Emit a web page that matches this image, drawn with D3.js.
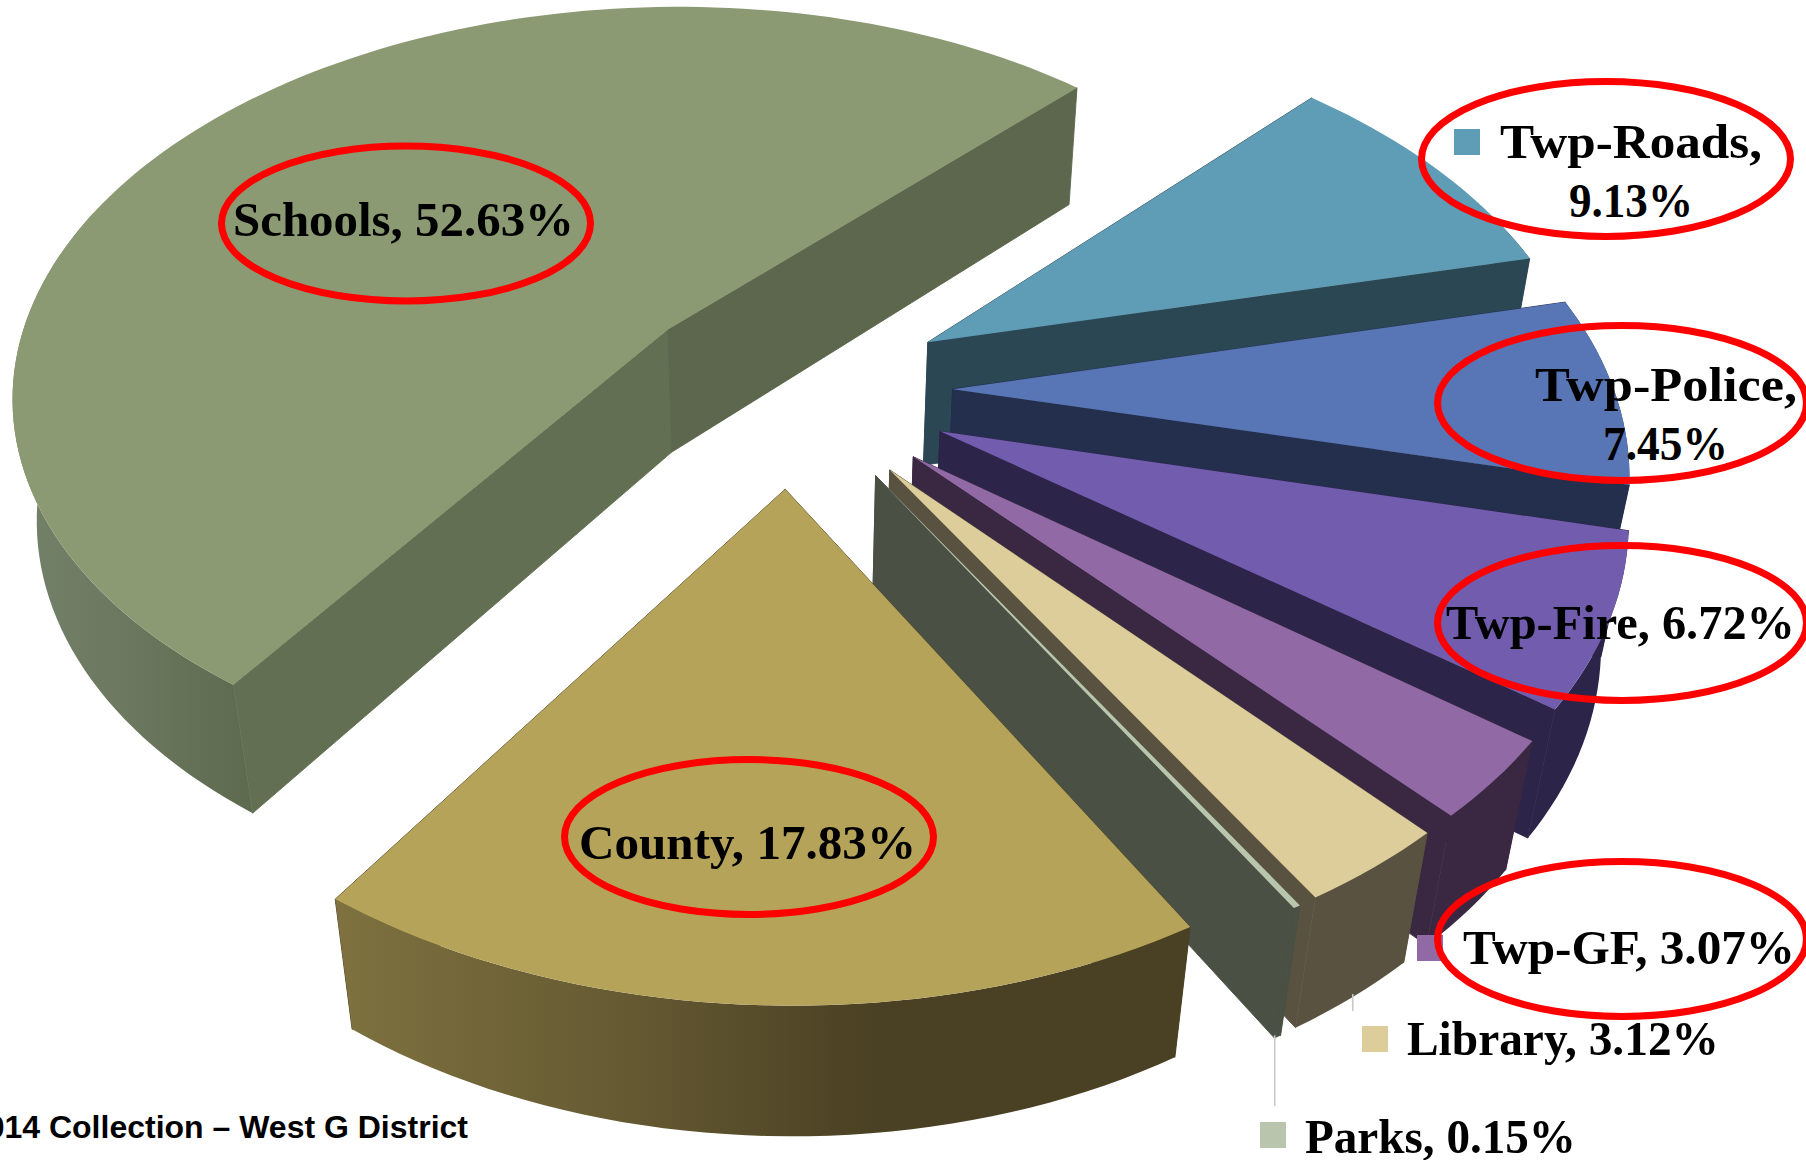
<!DOCTYPE html>
<html><head><meta charset="utf-8">
<style>html,body{margin:0;padding:0;background:#fff;overflow:hidden}svg{display:block}</style>
<script src="https://cdn.jsdelivr.net/npm/d3@7"></script>
</head><body><svg id="c" width="1806" height="1160"></svg>
<script>
// ---- data ----
const categories = ["Twp-Roads","Twp-Police","Twp-Fire","Twp-GF","Library","Parks","County","Schools"];
const values     = [9.13,7.45,6.72,3.07,3.12,0.15,17.83,52.63];
const valueText  = ["9.13%","7.45%","6.72%","3.07%","3.12%","0.15%","17.83%","52.63%"];
// ---- styles ----
const topColors  = ["#5f9db6","#5876b6","#715cae","#9069a5","#dccd9b","#b9c5ac","#b6a35a","#8c9a73"];
const rimColors  = ["#2c4754","#232f4c","#2d2449","#3a2842","#595240","#4a5043","#4a4023","#5e6a4e"];
const edgeA      = ["#2c4754","#232f4c","#2d2449","#3a2842","#595240","#4a5043","#4a4023","#636f52"];
const edgeB      = ["#2c4754","#232f4c","#2d2449","#3a2842","#595240","#4a5043","#4a4023","#5c674d"];
const rimShade   = {6:[[332,"#7f7240"],[620,"#655a32"],[880,"#4a4023"]], 7:[[20,"#74816a"],[120,"#6c7960"],[250,"#5e6a4e"]]};
// ---- camera: horizon, nadir, explosion ----
const deg = Math.PI/180;
const cam = {cx:750, f:645, horizon:-2000, D:2331, p:0.1609, nx:786, ny:4363, q:0.0314};
const hub = {x:0.062, y:0.1508}, explode = 0.2445, startDeg = 43.9;

function project(X,Y,down){
  const w = 1-cam.p*Y;
  let x = cam.cx+cam.f*X/w, y = cam.horizon+cam.D/w;
  if(down){ const r = cam.q/(w+cam.q); x += (cam.nx-x)*r; y += (cam.ny-y)*r; }
  return [x,y];
}
const svg = d3.select("#c");
const defs = svg.append("defs");
const arcs = d3.pie().sort(null).value(d=>d).startAngle(startDeg*deg).endAngle(startDeg*deg+2*Math.PI)(values);
const line = d3.line();
const poly = pts => line(pts)+"Z";

const geo = arcs.map(a=>{
  const mid=(a.startAngle+a.endAngle)/2;
  const ax=hub.x+explode*Math.sin(mid), ay=hub.y-explode*Math.cos(mid);
  const n=Math.max(1,Math.ceil((a.endAngle-a.startAngle)/(1.5*deg)));
  const angs=d3.range(n+1).map(i=>a.startAngle+(a.endAngle-a.startAngle)*i/n);
  const rim=angs.map(t=>[ax+Math.sin(t),ay-Math.cos(t)]);
  return {ax,ay,mid,angs,rim};
});
Object.keys(rimShade).forEach(i=>{
  const st=rimShade[i], g=defs.append("linearGradient").attr("id","rim"+i).attr("gradientUnits","userSpaceOnUse")
    .attr("x1",st[0][0]).attr("x2",st[st.length-1][0]).attr("y1",0).attr("y2",0);
  const off=d3.scaleLinear().domain([st[0][0],st[st.length-1][0]]).range([0,1]);
  st.forEach(s=>g.append("stop").attr("offset",off(s[0])).attr("stop-color",s[1]));
});

// back to front: Schools behind, then round the ring to the County
const order=[7,0,1,2,3,4,5,6];
order.forEach(i=>{
  const g=geo[i], s=svg.append("g").attr("class","slice");
  // rim wall, only where the rim faces the viewer
  const front=g.rim.filter((p,k)=>Math.cos(g.angs[k])<0.35);
  const rimFill=rimShade[i]?`url(#rim${i})`:rimColors[i];
  const upper=front.map(p=>project(p[0],p[1])), lower=front.map(p=>project(p[0],p[1],1)).reverse();
  // the two cut faces; the County's are hidden behind its own rim and top
  const cuts=[[0,edgeA[i]],[g.rim.length-1,edgeB[i]]].map(([k,c])=>{
    const e=g.rim[k];
    return [poly([project(g.ax,g.ay),project(e[0],e[1]),project(e[0],e[1],1),project(g.ax,g.ay,1)]),c];
  });
  const drawCuts=()=>cuts.forEach(([d,c])=>s.append("path").attr("d",d).attr("fill",c).attr("stroke",c).attr("stroke-width",0.9));
  const drawRim=()=>{ if(front.length>1) s.append("path").attr("d",poly(upper.concat(lower))).attr("fill",rimFill); };
  if(i===6){ drawCuts(); drawRim(); } else { drawRim(); drawCuts(); }
  // top face
  s.append("path").attr("d",poly([project(g.ax,g.ay)].concat(g.rim.map(p=>project(p[0],p[1]))))).attr("fill",topColors[i]);
});

// leader lines, from the rim's lower edge to the label
[[5,1106],[4,1011]].forEach(([i,y2])=>{
  const g=geo[i], m=g.rim[Math.floor(g.rim.length/2)], p=project(m[0],m[1],1);
  svg.append("line").attr("x1",p[0]).attr("x2",p[0]).attr("y1",p[1]-3).attr("y2",y2).attr("stroke","#c9c9c9").attr("stroke-width",1.6);
});

// legend swatches
const swatches=[[0,1454,129],[1,1491,370],[3,1417,935],[4,1362,1026],[5,1260,1122]];
svg.selectAll("rect.sw").data(swatches).join("rect").attr("class","sw")
  .attr("x",d=>d[1]).attr("y",d=>d[2]).attr("width",26).attr("height",26).attr("fill",d=>topColors[d[0]]);

// labels
const labelLayout=[
 {i:0,lines:[[categories[0]+",",1500,158,262],[valueText[0],1569,217,124]]},
 {i:1,lines:[[categories[1]+",",1535,401,262],[valueText[1],1603,460,125]]},
 {i:2,lines:[[categories[2]+", "+valueText[2],1446,639,349]]},
 {i:3,lines:[[categories[3]+", "+valueText[3],1463,964,332]]},
 {i:4,lines:[[categories[4]+", "+valueText[4],1407,1055,312]]},
 {i:5,lines:[[categories[5]+", "+valueText[5],1305,1153,271]]},
 {i:6,lines:[[categories[6]+", "+valueText[6],579,859,337]]},
 {i:7,lines:[[categories[7]+", "+valueText[7],233,236,341]]}
];
labelLayout.forEach(l=>l.lines.forEach(([t,x,y,w])=>{
  svg.append("text").text(t).attr("x",x).attr("y",y).attr("textLength",w).attr("lengthAdjust","spacingAndGlyphs")
    .attr("font-family","'Liberation Serif',serif").attr("font-weight","700").attr("font-size",49).attr("fill","#000");
}));

// red call-out rings
const rings=[[406,223.5],[1606,159],[1622,403],[1622,623],[1622,939],[749,837]];
svg.selectAll("ellipse").data(rings).join("ellipse").attr("cx",d=>d[0]).attr("cy",d=>d[1])
  .attr("rx",184.5).attr("ry",77.5).attr("fill","none").attr("stroke","#fe0000").attr("stroke-width",7);

svg.append("text").text("2014 Collection \u2013 West G District").attr("x",468).attr("y",1138).attr("text-anchor","end")
  .attr("font-family","'Liberation Sans',Arial,sans-serif").attr("font-weight","700").attr("font-size",32).attr("fill","#000");
</script></body></html>
